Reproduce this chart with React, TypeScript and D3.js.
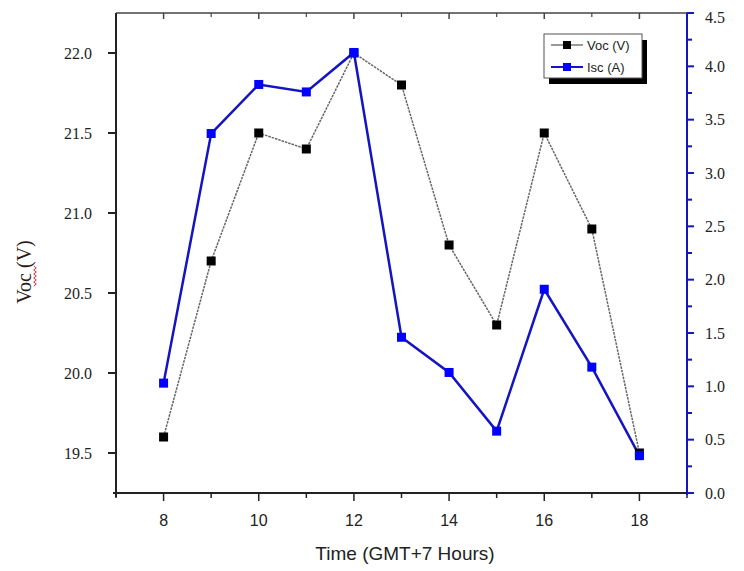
import React from "react";
import * as d3 from "d3";

const hours = [8, 9, 10, 11, 12, 13, 14, 15, 16, 17, 18];
const vocValues = [19.6, 20.7, 21.5, 21.4, 22.0, 21.8, 20.8, 20.3, 21.5, 20.9, 19.5];
const iscValues = [1.03, 3.37, 3.83, 3.76, 4.13, 1.46, 1.13, 0.58, 1.91, 1.18, 0.35];
const xTicks = [8, 10, 12, 14, 16, 18];
const xMinorTicks = [7, 9, 11, 13, 15, 17, 19];
const leftTicks = [19.5, 20.0, 20.5, 21.0, 21.5, 22.0];
const rightTicks = [0, 0.5, 1.0, 1.5, 2.0, 2.5, 3.0, 3.5, 4.0, 4.5];
const rightMinorTicks = [0.25, 0.75, 1.25, 1.75, 2.25, 2.75, 3.25, 3.75, 4.25];
const legendLabels = ["Voc (V)", "Isc (A)"];

const L = 116, R = 687, T = 13, B = 493;

export default function App() {
  const x = d3.scaleLinear().domain([7, 19]).range([L, R]);
  const yL = d3.scaleLinear().domain([19.25, 22.25]).range([B, T]);
  const yR = d3.scaleLinear().domain([0, 4.5]).range([B, T]);

  const vocLine = d3.line<number>().x((_, i) => x(hours[i])).y((d) => yL(d))(vocValues) || "";
  const iscLine = d3.line<number>().x((_, i) => x(hours[i])).y((d) => yR(d))(iscValues) || "";

  const blue = "#1414c0";
  const ms = 9;
  const serif = "'Liberation Serif', 'Times New Roman', serif";
  const sans = "'Liberation Sans', Arial, sans-serif";

  const wave: string[] = [];
  const wx = 35;
  for (let yy = 286, k = 0; yy >= 266; yy -= 2, k++) {
    wave.push(`${k === 0 ? "M" : "L"}${wx + (k % 2 ? 1.3 : -1.3)},${yy}`);
  }

  return (
    <svg width={744} height={571} style={{ position: "absolute", left: 0, top: 0, background: "#fff" }}>
      <rect width={744} height={571} fill="#fff" />
      <line x1={L} x2={R} y1={T} y2={T} stroke="#444" strokeWidth={1.5} />
      {xTicks.map((t) => (
        <line key={"tt" + t} x1={x(t)} x2={x(t)} y1={T} y2={T + 6} stroke="#444" strokeWidth={1.5} />
      ))}
      {xMinorTicks.map((t) => (
        <line key={"tm" + t} x1={x(t)} x2={x(t)} y1={T} y2={T + 4} stroke="#444" strokeWidth={1.2} />
      ))}
      <line x1={L} x2={L} y1={T} y2={B + 4} stroke="#222" strokeWidth={2} />
      {leftTicks.map((t) => (
        <g key={"l" + t}>
          <line x1={L - 8} x2={L} y1={yL(t)} y2={yL(t)} stroke="#222" strokeWidth={2} />
          <text x={92} y={yL(t)} dy="0.35em" textAnchor="end" fontFamily={serif} fontSize={16} fill="#222">
            {t.toFixed(1)}
          </text>
        </g>
      ))}
      <line x1={L - 3} x2={R + 3} y1={B} y2={B} stroke="#222" strokeWidth={2} />
      {xTicks.map((t) => (
        <g key={"b" + t}>
          <line x1={x(t)} x2={x(t)} y1={B} y2={B + 8} stroke="#222" strokeWidth={1.5} />
          <text x={x(t)} y={526} textAnchor="middle" fontFamily={sans} fontSize={16} fill="#222">
            {t}
          </text>
        </g>
      ))}
      {xMinorTicks.map((t) => (
        <line key={"bm" + t} x1={x(t)} x2={x(t)} y1={B} y2={B + 5} stroke="#222" strokeWidth={1.5} />
      ))}
      <text x={405} y={560} textAnchor="middle" fontFamily={sans} fontSize={19} fill="#222">
        Time (GMT+7 Hours)
      </text>
      <line x1={R} x2={R} y1={T} y2={B + 2} stroke={blue} strokeWidth={2} />
      {rightTicks.map((t) => (
        <g key={"r" + t}>
          <line x1={R} x2={R + 7} y1={yR(t)} y2={yR(t)} stroke={blue} strokeWidth={2} />
          <text x={705} y={yR(t) + (t === 4.5 ? 4 : 0)} dy="0.35em" textAnchor="start" fontFamily={serif} fontSize={16} fill="#222">
            {t.toFixed(1)}
          </text>
        </g>
      ))}
      {rightMinorTicks.map((t) => (
        <line key={"rm" + t} x1={R} x2={R + 5} y1={yR(t)} y2={yR(t)} stroke={blue} strokeWidth={2} />
      ))}
      <text transform="translate(31,272) rotate(-90)" textAnchor="middle" fontFamily={serif} fontSize={20} fill="#2a1a1a">
        Voc (V)
      </text>
      <path d={wave.join(" ")} fill="none" stroke="#e03030" strokeWidth={1} />
      <path d={vocLine} fill="none" stroke="#666" strokeWidth={1.5} strokeDasharray="2.5,1" />
      <path d={iscLine} fill="none" stroke={blue} strokeWidth={2.5} />
      {vocValues.map((v, i) => (
        <rect key={"vm" + i} x={x(hours[i]) - ms / 2} y={yL(v) - ms / 2} width={ms} height={ms} fill="#000" />
      ))}
      {iscValues.map((v, i) => (
        <rect key={"im" + i} x={x(hours[i]) - ms / 2} y={yR(v) - ms / 2} width={ms} height={ms} fill="#0000ff" />
      ))}
      <rect x={549} y={40} width={98} height={44} fill="#000" />
      <rect x={544} y={34} width={98} height={44} fill="#fff" stroke="#555" strokeWidth={1} />
      <line x1={551} x2={583} y1={45} y2={45} stroke="#555" strokeWidth={1.2} />
      <rect x={563} y={41} width={8} height={8} fill="#000" />
      <text x={587} y={45} dy="0.35em" fontFamily={sans} fontSize={13} fill="#222">{legendLabels[0]}</text>
      <line x1={551} x2={583} y1={67} y2={67} stroke={blue} strokeWidth={2} />
      <rect x={563} y={63} width={8} height={8} fill="#0000ff" />
      <text x={587} y={67} dy="0.35em" fontFamily={sans} fontSize={13} fill="#222">{legendLabels[1]}</text>
    </svg>
  );
}
